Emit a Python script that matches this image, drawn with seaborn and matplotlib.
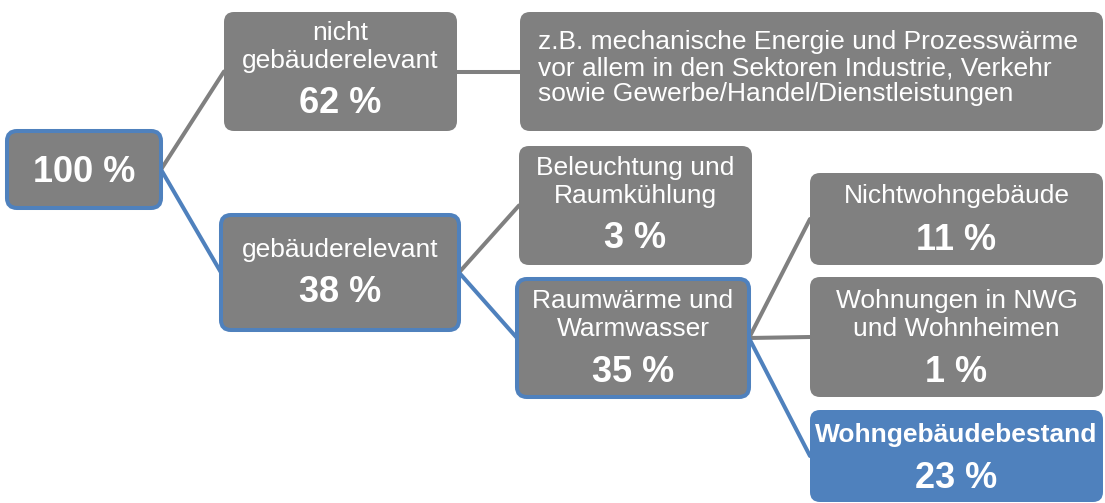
import matplotlib
matplotlib.use("Agg")
import matplotlib.pyplot as plt
from matplotlib.patches import FancyBboxPatch
import seaborn as sns
import pandas as pd

sns.set_theme(style="white")
plt.rcParams['font.family'] = ['Liberation Sans', 'DejaVu Sans']

GRAY = "#808080"
BLUE = "#4F81BD"

# Node data
node_ids = ["root", "nicht", "zb", "geb", "bel", "raum", "nwg", "wnwg", "wgb"]
node_labels = [[], ["nicht", "gebäuderelevant"],
               ["z.B. mechanische Energie und Prozesswärme",
                "vor allem in den Sektoren Industrie, Verkehr",
                "sowie Gewerbe/Handel/Dienstleistungen"],
               ["gebäuderelevant"], ["Beleuchtung und", "Raumkühlung"],
               ["Raumwärme und", "Warmwasser"], ["Nichtwohngebäude"],
               ["Wohnungen in NWG", "und Wohnheimen"], ["Wohngebäudebestand"]]
node_values = ["100 %", "62 %", "", "38 %", "3 %", "35 %", "11 %", "1 %", "23 %"]
node_style = ["gray_blue", "gray", "gray", "gray_blue", "gray", "gray_blue", "gray", "gray", "blue"]

# layout (pixel boxes: x0, y0, x1, y1) and text baselines
box_x0 = [7, 224, 520, 221, 519, 517, 810, 810, 810]
box_y0 = [131, 12, 12, 215, 146, 279, 173, 277, 410]
box_x1 = [161, 457, 1103, 459, 752, 749, 1103, 1103, 1103]
box_y1 = [208, 131, 131, 330, 265, 397, 265, 397, 502]
label_base = [[], [40, 68], [49, 75, 101], [257], [175, 203], [308, 336], [203], [308, 336], [442]]
value_base = [182, 113, None, 302, 248, 382, 250, 382, 488]

# Edges
edge_src = ["root", "root", "nicht", "geb", "geb", "raum", "raum", "raum"]
edge_dst = ["nicht", "geb", "zb", "bel", "raum", "nwg", "wnwg", "wgb"]
edge_kind = ["gray", "blue", "gray", "gray", "blue", "gray", "gray", "blue"]

fig = plt.figure(figsize=(11.05, 5.03), dpi=100)
ax = fig.add_axes([0, 0, 1, 1])

idx = {n: i for i, n in enumerate(node_ids)}
rows = []
for k, (s, d, kind) in enumerate(zip(edge_src, edge_dst, edge_kind)):
    i, j = idx[s], idx[d]
    sx, sy = box_x1[i], (box_y0[i] + box_y1[i]) / 2
    dx, dy = box_x0[j], (box_y0[j] + box_y1[j]) / 2
    rows.append(dict(edge=k, x=sx, y=sy, kind=kind))
    rows.append(dict(edge=k, x=dx, y=dy, kind=kind))
edges = pd.DataFrame(rows)
sns.lineplot(data=edges, x="x", y="y", units="edge", estimator=None, hue="kind",
             palette={"gray": GRAY, "blue": BLUE}, sort=False, linewidth=2.9,
             legend=False, ax=ax, zorder=1)
ax.set_xlim(0, 1105)
ax.set_ylim(503, 0)
ax.axis("off")

for i, nid in enumerate(node_ids):
    x0, y0, x1, y1 = box_x0[i], box_y0[i], box_x1[i], box_y1[i]
    st = node_style[i]
    if st == "blue":
        fc, ec, lw = BLUE, BLUE, 0
    elif st == "gray_blue":
        fc, ec, lw = GRAY, BLUE, 2.9
    else:
        fc, ec, lw = GRAY, GRAY, 0
    ax.add_patch(FancyBboxPatch((x0, y0), x1 - x0, y1 - y0,
                                boxstyle="round,pad=0,rounding_size=10",
                                fc=fc, ec=ec, lw=lw, zorder=2))
    cx = (x0 + x1) / 2
    weight = "bold" if st == "blue" else "normal"
    for line, yb in zip(node_labels[i], label_base[i]):
        if nid == "zb":
            ax.text(538, yb, line, ha="left", va="baseline", color="white",
                    fontsize=19, zorder=3)
        else:
            ax.text(cx, yb, line, ha="center", va="baseline", color="white",
                    fontsize=19, fontweight=weight, zorder=3)
    if node_values[i]:
        ax.text(cx, value_base[i], node_values[i], ha="center", va="baseline",
                color="white", fontsize=26, fontweight="bold", zorder=3)

fig.savefig("out.png", dpi=100)
